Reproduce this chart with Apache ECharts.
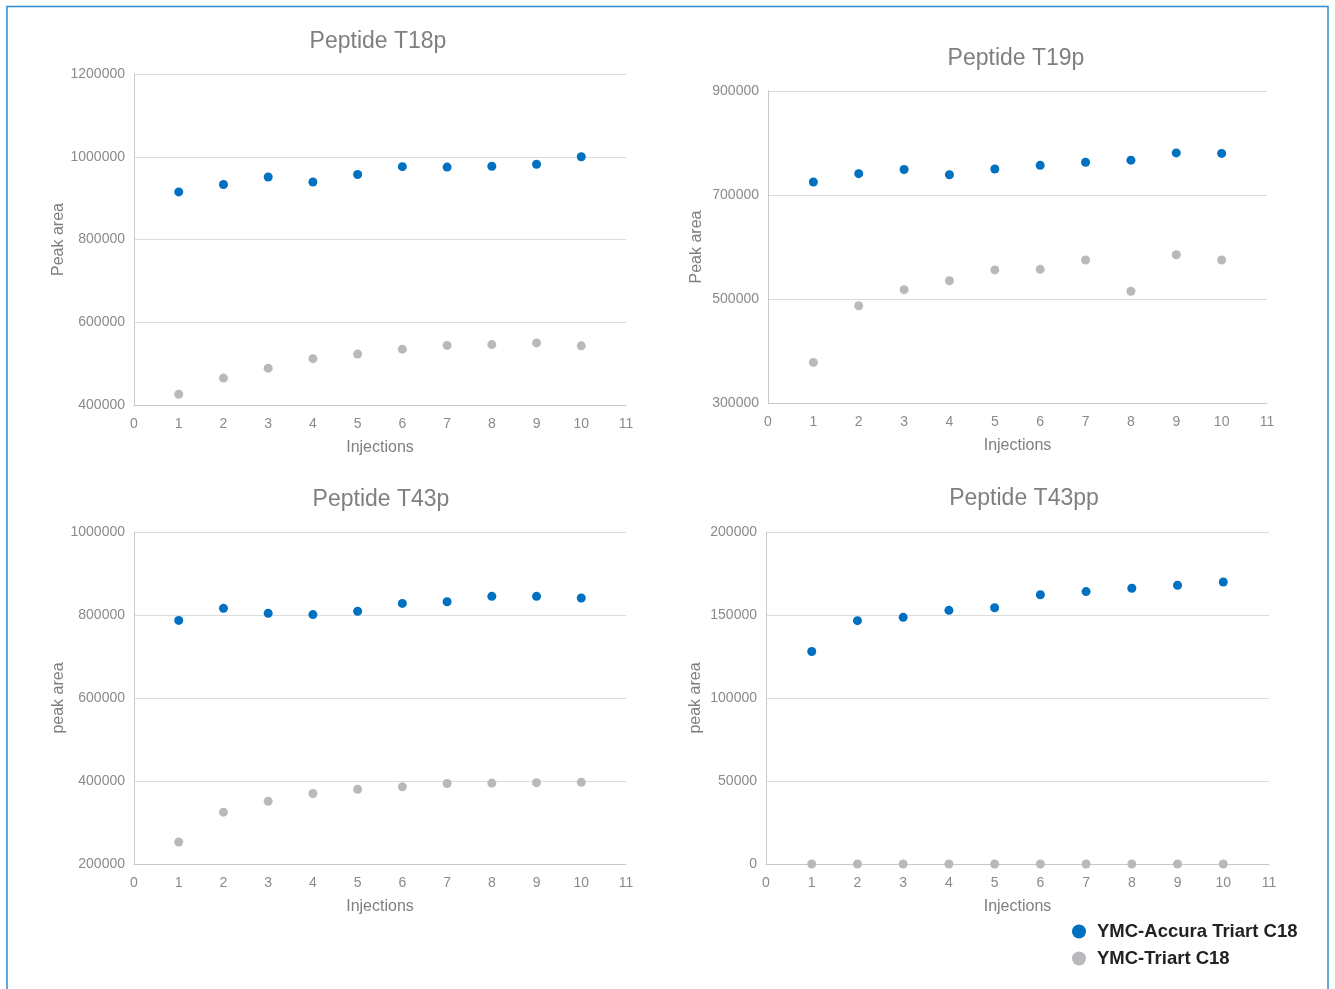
<!DOCTYPE html>
<html>
<head>
<meta charset="utf-8">
<script src="https://cdn.jsdelivr.net/npm/echarts@6/dist/echarts.min.js"></script>
<style>
html,body{margin:0;padding:0;background:#fff;}
#chart{width:1335px;height:989px;}
</style>
</head>
<body>
<div id="chart"></div>
<script>
// ---- Data ----
const injections = [1,2,3,4,5,6,7,8,9,10];
const seriesNames = ['YMC-Accura Triart C18','YMC-Triart C18'];
const panelTitles = ['Peptide T18p','Peptide T19p','Peptide T43p','Peptide T43pp'];
const yAxisNames = ['Peak area','Peak area','peak area','peak area'];
const xAxisName = 'Injections';

const t18p_accura = [915000,933000,951000,939000,957000,976000,975000,977000,982000,1000000];
const t18p_triart = [426000,465000,489000,512000,523000,535000,544000,546000,550000,543000];

const t19p_accura = [725000,741000,749000,739000,750000,757000,763000,767000,781000,780000];
const t19p_triart = [378000,487000,518000,535000,556000,557000,575000,515000,585000,575000];

const t43p_accura = [787000,816000,804000,801000,809000,828000,832000,845000,845000,841000];
const t43p_triart = [253000,325000,351000,370000,380000,386000,394000,395000,396000,397000];

const t43pp_accura = [128000,146600,148600,152800,154400,162200,164100,166100,167900,169900];
const t43pp_triart = [0,0,0,0,0,0,0,0,0,0];

const yMins = [400000,300000,200000,0];
const yMaxs = [1200000,900000,1000000,200000];
const yIntervals = [200000,200000,200000,50000];

// ---- Styles ----
const FONT = '"Liberation Sans", Arial, Helvetica, sans-serif';
const BLUE = '#0070c0';
const GRAY = '#b9b9bd';
const grids = [
  {left:134, top:74, width:492, height:331},
  {left:768, top:91, width:499, height:312},
  {left:134, top:532, width:492, height:332},
  {left:766, top:532, width:503, height:332}
];
const titlePos = [[378,30],[1016,47],[381,488],[1024,487]];
const yNameGaps = [65,63,65,62];

const accuraData = [t18p_accura,t19p_accura,t43p_accura,t43pp_accura];
const triartData = [t18p_triart,t19p_triart,t43p_triart,t43pp_triart];

const pairs = arr => injections.map((x,i)=>[x,arr[i]]);

const option = {
  animation:false,
  backgroundColor:'#fff',
  textStyle:{fontFamily:FONT},
  title: panelTitles.map((t,i)=>({
    text:t, left:titlePos[i][0], top:titlePos[i][1], textAlign:'center', padding:0,
    textStyle:{fontFamily:FONT, fontSize:23, fontWeight:'normal', color:'#7f7f7f'}
  })),
  legend:{
    orient:'vertical', left:1072, top:922, padding:0, itemWidth:26, itemHeight:14, itemGap:8,
    icon:'circle', data:seriesNames,
    textStyle:{fontFamily:FONT, fontSize:18.5, fontWeight:'bold', color:'#222'}
  },
  grid: grids.map(g=>Object.assign({containLabel:false}, g)),
  xAxis: grids.map((g,i)=>({
    gridIndex:i, type:'value', min:0, max:11, interval:1,
    name:xAxisName, nameLocation:'middle', nameGap:35,
    nameTextStyle:{fontFamily:FONT, fontSize:16, color:'#7f7f7f'},
    axisLine:{show:true, lineStyle:{color:'#c8c8c8', width:1}},
    axisTick:{show:false},
    splitLine:{show:false},
    axisLabel:{margin:12, fontFamily:FONT, fontSize:14, color:'#8a8a8a'}
  })),
  yAxis: grids.map((g,i)=>({
    gridIndex:i, type:'value', min:yMins[i], max:yMaxs[i], interval:yIntervals[i],
    name:yAxisNames[i], nameLocation:'middle', nameGap:yNameGaps[i],
    nameTextStyle:{fontFamily:FONT, fontSize:16, color:'#7f7f7f'},
    axisLine:{show:true, lineStyle:{color:'#c8c8c8', width:1}},
    axisTick:{show:false},
    splitLine:{show:true, lineStyle:{color:'#dcdcdc', width:1}},
    axisLabel:{margin:9, fontFamily:FONT, fontSize:14, color:'#8a8a8a',
      formatter:v=>String(v)}
  })),
  series: [].concat(...grids.map((g,i)=>[
    {name:seriesNames[0], type:'scatter', xAxisIndex:i, yAxisIndex:i, symbolSize:9,
     itemStyle:{color:BLUE, opacity:1}, data:pairs(accuraData[i]), z:3},
    {name:seriesNames[1], type:'scatter', xAxisIndex:i, yAxisIndex:i, symbolSize:9,
     itemStyle:{color:GRAY, opacity:1}, data:pairs(triartData[i]), z:3}
  ])),
  graphic:[{
    type:'rect', silent:true, z:-1,
    shape:{x:7, y:6.5, width:1321, height:1000},
    style:{fill:'none', stroke:'#2d8bd6', lineWidth:1.5}
  }]
};

const chart = echarts.init(document.getElementById('chart'), null, {renderer:'canvas'});
chart.setOption(option);
</script>
</body>
</html>
